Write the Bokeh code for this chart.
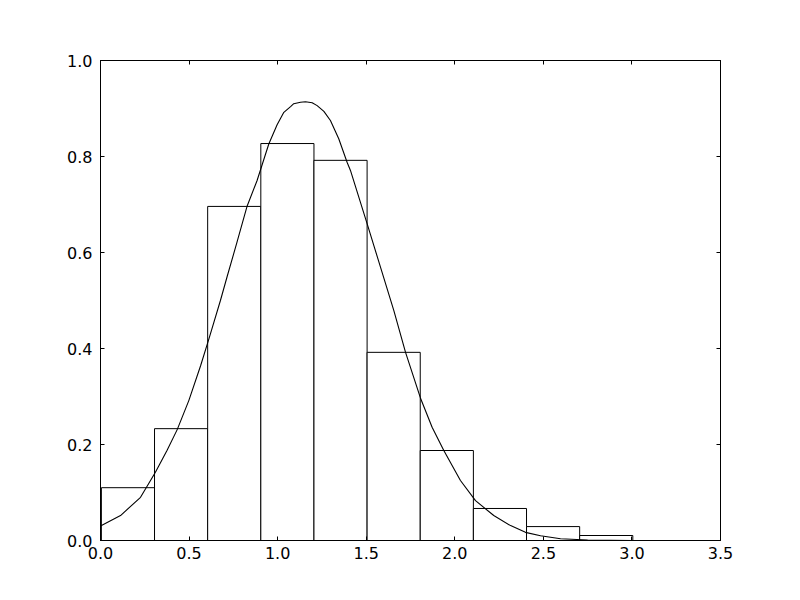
from bokeh.plotting import figure
from bokeh.models import LinearAxis, FixedTicker, Range1d, PrintfTickFormatter
from bokeh.embed import file_html
from bokeh.resources import INLINE

# Histogram (density)
bin_edges = [0.005, 0.305, 0.605, 0.905, 1.205, 1.505, 1.805, 2.105, 2.405, 2.705, 3.005]
bin_heights = [0.110, 0.233, 0.696, 0.827, 0.792, 0.392, 0.1875, 0.0667, 0.029, 0.0104]

# Fitted curve points
curve_x = [0.0, 0.113, 0.226, 0.310, 0.376, 0.433, 0.499, 0.565, 0.612, 0.677, 0.715,
           0.771, 0.828, 0.884, 0.950, 0.997, 1.035, 1.073, 1.091, 1.129, 1.157, 1.195,
           1.223, 1.261, 1.298, 1.345, 1.392, 1.411, 1.505, 1.581, 1.656, 1.722, 1.806,
           1.872, 1.938, 2.032, 2.117, 2.220, 2.315, 2.399, 2.484, 2.597, 2.750, 3.000]
curve_y = [0.030, 0.052, 0.090, 0.142, 0.188, 0.231, 0.292, 0.364, 0.420, 0.500, 0.550,
           0.622, 0.697, 0.750, 0.826, 0.866, 0.892, 0.904, 0.910, 0.913, 0.914, 0.912,
           0.906, 0.894, 0.875, 0.837, 0.788, 0.771, 0.660, 0.569, 0.479, 0.392, 0.297,
           0.236, 0.1875, 0.125, 0.083, 0.052, 0.031, 0.017, 0.010, 0.0035, 0.001, 0.0]

x_ticks = [0.0, 0.5, 1.0, 1.5, 2.0, 2.5, 3.0, 3.5]
y_ticks = [0.0, 0.2, 0.4, 0.6, 0.8, 1.0]

p = figure(width=800, height=600, output_backend="svg", toolbar_location=None,
           x_range=Range1d(0, 3.5), y_range=Range1d(0, 1.0),
           min_border_left=100, min_border_right=80, min_border_top=60, min_border_bottom=60,
           x_axis_type=None, y_axis_type=None)
p.xgrid.visible = False
p.ygrid.visible = False
p.outline_line_color = "black"
p.outline_line_width = 1
p.background_fill_color = "white"
p.border_fill_color = "white"

p.quad(left=bin_edges[:-1], right=bin_edges[1:], top=bin_heights, bottom=0,
       fill_color="white", line_color="black", line_width=1)
p.line(curve_x, curve_y, line_color="black", line_width=1.1)

FONT = "DejaVu Sans"
SIZE = "16px"

def style(ax, ticks, show_labels, standoff):
    ax.ticker = FixedTicker(ticks=ticks)
    ax.formatter = PrintfTickFormatter(format="%.1f")
    ax.major_tick_in = 4
    ax.major_tick_out = 0
    ax.minor_tick_in = 0
    ax.minor_tick_out = 0
    ax.axis_line_color = "black"
    ax.major_tick_line_color = "black"
    ax.major_label_standoff = standoff
    ax.major_label_text_font = FONT
    ax.major_label_text_color = "black"
    ax.major_label_text_font_size = SIZE
    if not show_labels:
        ax.major_label_overrides = {t: "" for t in ticks}

xb = LinearAxis(); style(xb, x_ticks, True, 6)
yl = LinearAxis(); style(yl, y_ticks, True, 8)
xt = LinearAxis(); style(xt, x_ticks, False, 0)
yr = LinearAxis(); style(yr, y_ticks, False, 0)
p.add_layout(xb, "below")
p.add_layout(yl, "left")
p.add_layout(xt, "above")
p.add_layout(yr, "right")

open("out.html", "w").write(file_html(p, INLINE))
